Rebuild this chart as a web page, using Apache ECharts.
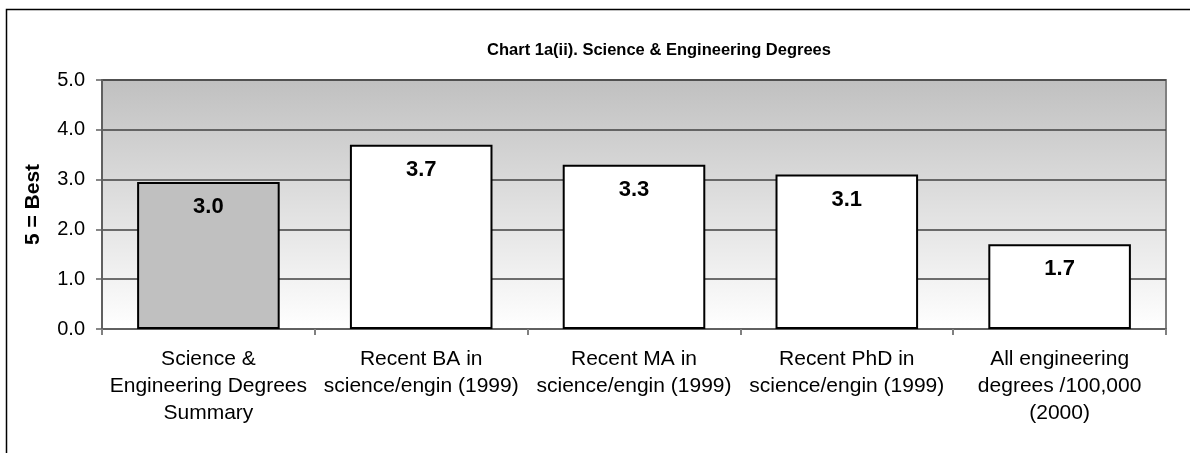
<!DOCTYPE html>
<html lang="en">
<head>
    <meta charset="UTF-8">
    <script type="text/javascript" src="https://cdn.jsdelivr.net/npm/echarts@6/dist/echarts.min.js"></script>
    <title>Chart 1a(ii)</title>
    <style>
        html, body { margin: 0; padding: 0; background: #fff; }
        #t_data { width: 1190px; height: 453px; }
    </style>
</head>
<body>
    <div id="t_data"></div>
</body>
</html>
<script>
    // 数据
    var categories = [
        'Science &\nEngineering Degrees\nSummary',
        'Recent BA in\nscience/engin (1999)',
        'Recent MA in\nscience/engin (1999)',
        'Recent PhD in\nscience/engin (1999)',
        'All engineering\ndegrees /100,000\n(2000)'
    ];
    var scores = [2.95, 3.7, 3.3, 3.1, 1.7];
    var barColors = ['#c0c0c0', '#ffffff', '#ffffff', '#ffffff', '#ffffff'];
    var yTicks = [0, 1, 2, 3, 4, 5];

    var font = "'Liberation Sans', Arial, sans-serif";
    var myChart = echarts.init(document.getElementById('t_data'));
    myChart.setOption({
        animation: false,
        title: {
            text: 'Chart 1a(ii). Science & Engineering Degrees',
            left: 654,
            top: 37,
            textAlign: 'center',
            textStyle: { fontFamily: font, fontSize: 16.5, fontWeight: 'bold', color: '#000' }
        },
        graphic: [{
            type: 'rect',
            shape: { x: 6.5, y: 9.5, width: 1200, height: 470 },
            style: { fill: 'none', stroke: '#000', lineWidth: 1.5 },
            silent: true
        }],
        grid: {
            left: 102,
            right: 24,
            top: 80,
            bottom: 124,
            show: true,
            borderColor: '#808080',
            borderWidth: 2,
            backgroundColor: new echarts.graphic.LinearGradient(0, 0, 0, 1, [
                { offset: 0, color: '#c0c0c0' },
                { offset: 1, color: '#ffffff' }
            ])
        },
        xAxis: {
            type: 'category',
            data: categories,
            axisLine: { lineStyle: { color: '#606060', width: 2 } },
            axisTick: { show: true, alignWithLabel: false, length: 6, lineStyle: { color: '#808080', width: 2 } },
            axisLabel: {
                interval: 0,
                margin: 17,
                fontFamily: font,
                fontSize: 21,
                lineHeight: 27,
                color: '#000',
                align: 'center'
            }
        },
        yAxis: {
            type: 'value',
            min: yTicks[0],
            max: yTicks[yTicks.length - 1],
            interval: 1,
            name: '5 = Best',
            nameLocation: 'middle',
            nameGap: 58,
            nameRotate: 90,
            nameTextStyle: { fontFamily: font, fontSize: 21, fontWeight: 'bold', color: '#000' },
            axisLine: { show: true, lineStyle: { color: '#606060', width: 2 } },
            axisTick: { show: true, length: 6, lineStyle: { color: '#606060', width: 1.5 } },
            axisLabel: {
                margin: 17,
                fontFamily: font,
                fontSize: 20,
                color: '#000',
                formatter: function (v) { return v.toFixed(1); }
            },
            splitLine: { show: true, lineStyle: { color: '#404040', width: 1.5 } }
        },
        series: [{
            type: 'bar',
            barWidth: '67%',
            data: scores.map(function (v, i) {
                return { value: v, itemStyle: { color: barColors[i] } };
            }),
            itemStyle: { borderColor: '#000', borderWidth: 2 },
            label: {
                show: true,
                position: 'insideTop',
                distance: 14,
                fontFamily: font,
                fontSize: 22,
                fontWeight: 'bold',
                color: '#000',
                formatter: function (p) { return p.value.toFixed(1); }
            }
        }]
    });
</script>
